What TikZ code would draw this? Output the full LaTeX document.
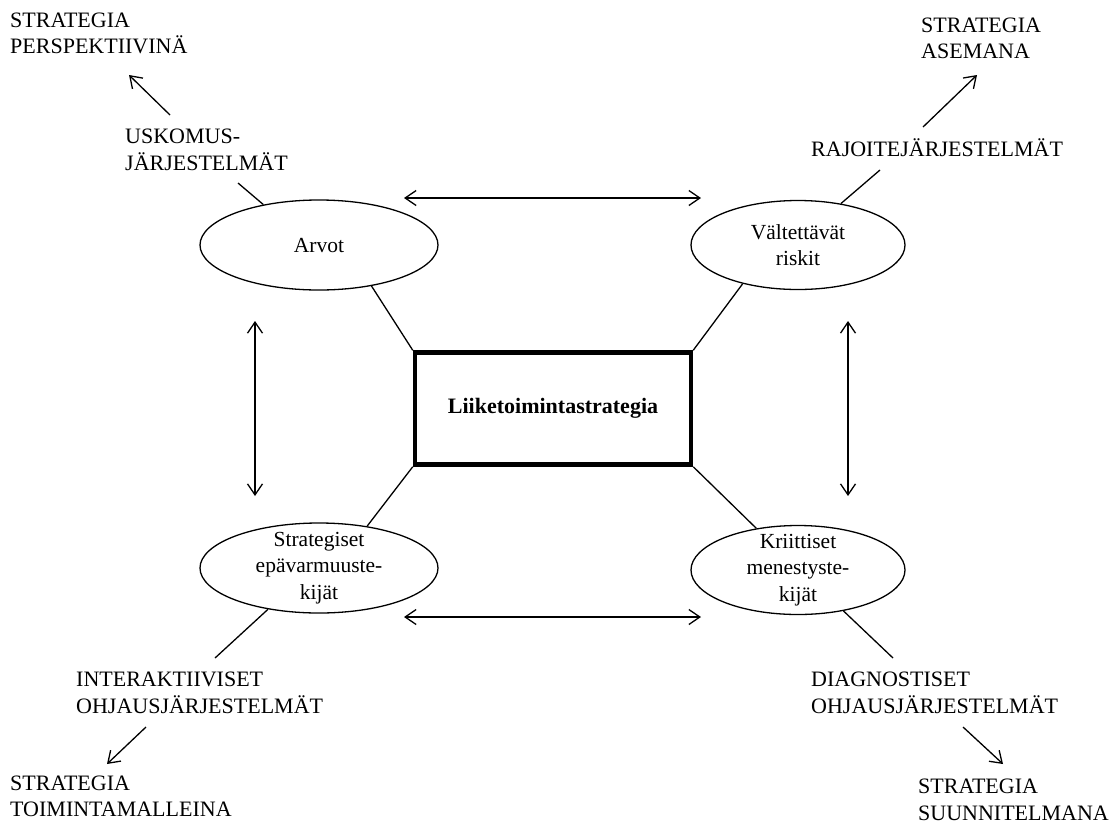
\documentclass[tikz,border=0pt]{standalone}
\usepackage{fontspec}
\setmainfont{Liberation Serif}
\usetikzlibrary{shapes.geometric,arrows.meta}
\begin{document}
\begin{tikzpicture}[x=1pt,y=-1pt,
  lbl/.style={anchor=west,align=left,inner sep=0pt,font=\fontsize{22}{26.5}\selectfont},
  ell/.style={draw,ellipse,line width=1.3pt,minimum width=238pt,minimum height=90pt,inner sep=0pt},
  ellS/.style={ell,minimum width=214pt,minimum height=89pt},
  etext/.style={align=center,inner sep=0pt,font=\fontsize{21.5}{26.5}\selectfont},
  conn/.style={line width=1.3pt},
  tip/.style={line width=1.3pt,-{Straight Barb[length=11pt,width=15pt]}},
  dtip/.style={line width=1.3pt,{Straight Barb[length=11pt,width=15pt]}-{Straight Barb[length=11pt,width=15pt]}}
]
\useasboundingbox (0,0) rectangle (1114,823);
\fill[white] (0,0) rectangle (1114,823);

% central box
\node[draw,line width=4.5pt,minimum width=276pt,minimum height=112pt,inner sep=0pt,
  font=\fontsize{22}{26.5}\selectfont\bfseries] (box) at (553,408.5) {Liiketoimintastrategia};

% ellipses
\node[ell] (arvot) at (319,245) {};
\node[etext] (arvotT) at (arvot) {Arvot};
\node[ellS] (riskit) at (798,245) {};
\node[etext] (riskitT) at (riskit) {Vältettävät\\riskit};
\node[ell] (epav) at (319,568) {};
\node[etext] (epavT) at (epav) {Strategiset\\epävarmuuste-\\kijät};
\node[ellS] (menes) at (798,570) {};
\node[etext] (menesT) at (menes) {Kriittiset\\menestyste-\\kijät};

% corner texts
\node[lbl] (persp) at (10,33.5) {STRATEGIA\\PERSPEKTIIVINÄ};
\node[lbl] (usk) at (125,150) {USKOMUS-\\JÄRJESTELMÄT};
\node[lbl] (asema) at (921,38.5) {STRATEGIA\\ASEMANA};
\node[lbl] (rajo) at (811,148) {RAJOITEJÄRJESTELMÄT};
\node[lbl] (inter) at (76,693) {INTERAKTIIVISET\\OHJAUSJÄRJESTELMÄT};
\node[lbl] (toim) at (10,796.5) {STRATEGIA\\TOIMINTAMALLEINA};
\node[lbl] (diag) at (811,693) {DIAGNOSTISET\\OHJAUSJÄRJESTELMÄT};
\node[lbl] (suun) at (918,800) {STRATEGIA\\SUUNNITELMANA};

% free ends
\coordinate (uskEnd) at (238,183);
\coordinate (rajoEnd) at (880,170);
\coordinate (interEnd) at (215,658);
\coordinate (diagEnd) at (893,658);
\coordinate (a1s) at (170,115); \coordinate (a1e) at (129,75);
\coordinate (a2s) at (923,127); \coordinate (a2e) at (977,75);
\coordinate (a3s) at (146,727); \coordinate (a3e) at (107,764);
\coordinate (a4s) at (963,727); \coordinate (a4e) at (1003,764);
\coordinate (ht1) at (404,198); \coordinate (ht2) at (701,198);
\coordinate (hb1) at (404,617); \coordinate (hb2) at (701,617);
\coordinate (vl1) at (255,321); \coordinate (vl2) at (255,496);
\coordinate (vr1) at (848,321); \coordinate (vr2) at (848,496);

% connectors ellipse - box
\draw[conn] (arvot.-38) -- (box.north west);
\draw[conn] (riskit.215) -- (box.north east);
\draw[conn] (epav.41) -- (box.south west);
\draw[conn] (menes.135) -- (box.south east);

% connectors ellipse - labels
\draw[conn] (arvot.144) -- (uskEnd);
\draw[conn] (riskit.44) -- (rajoEnd);
\draw[conn] (epav.219) -- (interEnd);
\draw[conn] (menes.318) -- (diagEnd);

% arrows to outer texts
\draw[tip] (a1s) -- (a1e);
\draw[tip] (a2s) -- (a2e);
\draw[tip] (a3s) -- (a3e);
\draw[tip] (a4s) -- (a4e);

% double arrows
\draw[dtip] (ht1) -- (ht2);
\draw[dtip] (hb1) -- (hb2);
\draw[dtip] (vl1) -- (vl2);
\draw[dtip] (vr1) -- (vr2);
\end{tikzpicture}
\end{document}
